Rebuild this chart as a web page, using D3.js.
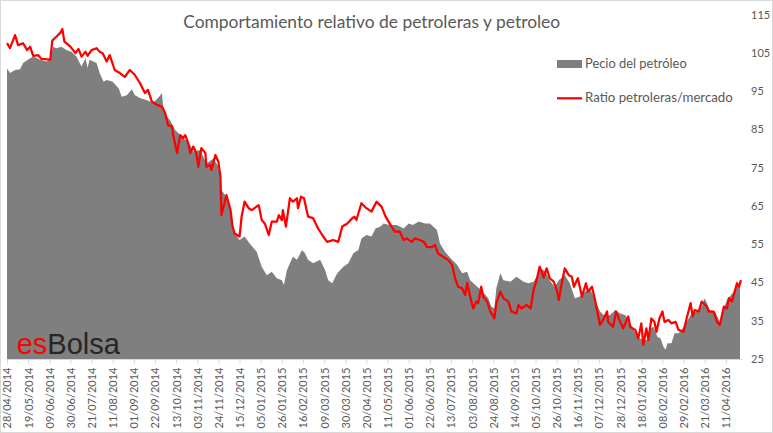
<!DOCTYPE html>
<html><head><meta charset="utf-8">
<script src="https://cdn.jsdelivr.net/npm/d3@7"></script>
<style>body{margin:0;background:#fff}svg{display:block}</style>
</head><body><svg id="c" width="773" height="433"></svg>
<script>
const titleText = "Comportamiento relativo de petroleras y petroleo";
const seriesNames = ["Pecio del petróleo", "Ratio petroleras/mercado"];
const startDate = "28/04/2014";
const endDay = 730;
const tickLabels = ["28/04/2014","19/05/2014","09/06/2014","30/06/2014","21/07/2014","11/08/2014","01/09/2014","22/09/2014","13/10/2014","03/11/2014","24/11/2014","15/12/2014","05/01/2015","26/01/2015","16/02/2015","09/03/2015","30/03/2015","20/04/2015","11/05/2015","01/06/2015","22/06/2015","13/07/2015","03/08/2015","24/08/2015","14/09/2015","05/10/2015","26/10/2015","16/11/2015","07/12/2015","28/12/2015","18/01/2016","08/02/2016","29/02/2016","21/03/2016","11/04/2016"];
const yTicks = [25,35,45,55,65,75,85,95,105,115];

// days since start date
const oilDay = [0,3,8,13,16,23,26,33,39,43,46,49,54,59,64,69,74,78,80,82,89,92,96,99,105,111,114,119,124,127,132,139,145,150,154,155,159,162,167,172,179,182,185,192,198,205,210,213,218,223,226,231,236,241,248,253,258,263,268,273,275,278,281,284,288,293,296,299,304,311,316,319,323,328,334,339,344,349,352,357,362,366,371,374,380,387,394,399,403,409,415,420,427,430,435,442,447,452,457,460,467,471,478,481,484,486,490,493,500,506,513,518,523,526,530,535,539,544,548,554,559,564,569,574,579,584,589,594,599,604,609,614,621,626,631,636,639,642,646,649,652,654,656,660,663,667,670,675,680,685,690,693,698,703,708,712,715,718,723,728];
const oilPrice = [100.9,99.7,100.5,100.7,102.3,103.6,104.0,103.2,102.7,103.3,106.6,106.2,106.6,105.7,105.3,104.0,101.4,103.6,101.0,103.2,102.3,99.7,97.4,97.9,97.4,95.7,93.5,93.9,95.5,93.9,93.2,92.6,91.9,93.2,94.5,90.9,88.3,87.4,84.8,83.5,81.8,80.9,79.2,79.6,76.1,77.4,75.2,69.1,67.4,62.2,57.9,56.1,57.0,55.2,53.0,49.1,46.9,47.8,46.1,45.6,44.3,48.2,50.0,51.7,50.9,53.5,52.6,50.9,50.0,50.9,48.2,45.6,44.8,47.4,49.1,50.0,52.6,53.5,56.5,57.4,57.0,59.1,59.6,60.4,60.0,60.0,59.1,60.4,60.0,60.9,60.4,60.4,58.7,55.2,53.0,50.9,49.6,47.4,47.8,45.6,43.9,43.0,40.9,38.7,38.2,43.5,47.4,45.6,45.2,46.5,45.2,44.8,45.2,46.5,48.7,47.8,45.6,43.8,45.6,46.9,44.8,40.9,41.3,42.6,43.5,40.4,37.4,36.1,36.5,37.8,36.9,36.5,33.4,30.8,30.0,30.0,33.0,33.4,30.8,30.4,28.2,27.4,29.1,29.1,31.7,31.7,32.6,34.7,36.9,37.4,38.7,40.9,37.8,37.4,34.7,38.2,40.4,41.3,43.0,44.8];

const ratioDay = [0,3,8,11,16,20,23,26,31,34,43,45,49,53,55,57,63,68,71,74,78,80,84,89,92,95,99,102,107,112,117,122,127,132,137,140,144,149,154,157,160,164,165,169,172,175,177,180,182,185,188,190,193,197,198,202,203,207,210,212,213,218,222,224,226,231,233,236,240,243,250,253,256,260,263,268,270,273,274,277,281,284,288,289,292,295,299,304,309,314,318,324,329,333,338,343,345,347,352,357,362,367,372,376,379,382,385,390,394,397,402,405,410,414,417,422,425,428,433,438,442,445,448,452,455,457,460,463,466,468,471,473,477,480,484,486,490,493,498,501,506,508,511,516,520,523,526,529,533,536,539,543,546,548,551,554,558,561,563,567,571,575,577,581,584,589,592,596,597,602,605,609,612,617,619,624,627,630,632,635,637,640,643,645,648,651,653,657,660,664,667,672,675,679,681,683,687,690,695,697,702,705,708,712,715,717,720,725,727,729];
const ratioValue = [107.5,106.2,109.6,107.0,107.5,105.7,106.6,104.2,104.4,103.4,103.2,108.2,109.2,110.2,111.2,107.9,106.6,104.9,106.0,104.0,105.3,104.2,105.7,106.2,105.3,104.9,102.7,104.4,100.5,99.7,98.7,100.5,99.2,97.1,94.5,95.3,92.2,91.4,90.9,89.3,86.1,85.7,83.5,78.8,83.5,82.7,83.5,81.4,78.8,80.5,78.8,75.2,80.1,78.8,75.2,75.7,74.4,78.3,76.5,72.6,62.6,67.8,63.9,59.6,57.8,57.0,62.2,66.1,64.4,63.9,65.2,61.3,60.4,57.4,60.9,60.9,62.6,61.3,63.9,59.6,67.0,66.1,67.0,64.4,67.4,67.0,62.2,61.8,59.1,57.0,55.6,56.1,55.6,59.6,60.4,61.8,62.2,61.3,65.7,64.4,63.5,66.1,64.8,62.2,60.9,59.6,58.3,58.3,56.1,56.5,55.6,56.5,56.1,55.6,54.3,54.2,54.8,52.6,51.7,50.9,49.6,46.1,43.9,43.5,41.7,44.8,41.3,38.2,40.0,39.6,43.9,41.3,40.0,37.4,35.6,39.6,42.6,40.9,40.0,37.4,36.9,39.1,38.2,39.1,38.2,43.0,45.6,49.1,46.3,48.7,46.1,45.2,43.0,40.4,44.8,48.7,46.9,46.5,43.9,46.1,41.3,44.8,42.6,43.9,40.4,33.9,35.2,37.4,34.7,33.4,37.4,34.7,33.0,36.1,33.4,32.6,30.4,34.3,28.7,33.0,30.0,35.6,34.7,32.1,35.6,37.4,34.7,35.2,34.3,34.7,32.6,32.1,35.6,39.6,36.1,37.8,37.4,40.0,38.7,37.4,37.4,34.7,33.9,38.7,38.2,40.9,40.0,44.8,43.9,45.6];

const W = 773, H = 433;
const svg = d3.select("#c");
const parse = d3.timeParse("%d/%m/%Y");
const fmt = d3.timeFormat("%d/%m/%Y");
const t0 = parse(startDate);
const toDate = d => d3.timeDay.offset(t0, d);

const x = d3.scaleTime().domain([t0, toDate(endDay)]).range([7, 742]);
const y = d3.scaleLinear().domain([25, 115]).range([359, 14.5]);

const oil = oilDay.map((d, i) => ({date: toDate(d), v: oilPrice[i]}));
const ratio = ratioDay.map((d, i) => ({date: toDate(d), v: ratioValue[i]}));

svg.append("rect").attr("x", 0.5).attr("y", 0.5).attr("width", W - 1).attr("height", H - 1)
  .attr("fill", "#fff").attr("stroke", "#d9d9d9");

svg.append("path").datum(oil)
  .attr("fill", "#7f7f7f")
  .attr("d", d3.area().x(d => x(d.date)).y0(y(25)).y1(d => y(d.v)));

svg.append("path").datum(ratio)
  .attr("fill", "none").attr("stroke", "#ff0000").attr("stroke-width", 2.25)
  .attr("stroke-linejoin", "round")
  .attr("d", d3.line().x(d => x(d.date)).y(d => y(d.v)));

// bottom axis
const xa = svg.append("g").attr("transform", `translate(0,${y(25) + 0.5})`)
  .call(d3.axisBottom(x).tickValues(tickLabels.map(parse)).tickFormat(fmt).tickSize(4).tickSizeOuter(0));
xa.select(".domain").attr("stroke", "#d9d9d9").attr("d", `M${x(t0)},0H${x(toDate(endDay))}`);
xa.selectAll(".tick line").attr("stroke", "#d9d9d9");
xa.selectAll(".tick text")
  .attr("transform", "rotate(-90)")
  .attr("text-anchor", "end")
  .attr("x", -8).attr("y", 0).attr("dy", "0.35em")
  .attr("fill", "#595959")
  .style("font-family", "Lato, 'Liberation Sans', sans-serif")
  .style("font-size", "11px");

// right axis
const ya = svg.append("g").attr("transform", "translate(751,0)")
  .call(d3.axisRight(y).tickValues(yTicks).tickSize(0).tickPadding(0));
ya.select(".domain").remove();
ya.selectAll(".tick text").attr("fill", "#595959")
  .style("font-family", "Lato, 'Liberation Sans', sans-serif")
  .style("font-size", "11px");

// title
svg.append("text").attr("x", 371.7).attr("y", 28).attr("text-anchor", "middle")
  .attr("fill", "#595959").attr("textLength", 377).attr("lengthAdjust", "spacingAndGlyphs")
  .style("font-family", "Lato, 'Liberation Sans', sans-serif").style("font-size", "18px")
  .text(titleText);

// legend
const lg = svg.append("g");
lg.append("rect").attr("x", 557).attr("y", 60).attr("width", 25).attr("height", 8).attr("fill", "#7f7f7f");
lg.append("line").attr("x1", 557).attr("x2", 582).attr("y1", 98.3).attr("y2", 98.3)
  .attr("stroke", "#ff0000").attr("stroke-width", 2.25);
[[68, 101.7], [101.8, 147.7]].forEach((p, i) => {
  lg.append("text").attr("x", 585).attr("y", p[0]).attr("fill", "#595959")
    .attr("textLength", p[1]).attr("lengthAdjust", "spacingAndGlyphs")
    .style("font-family", "Lato, 'Liberation Sans', sans-serif").style("font-size", "12.5px")
    .text(seriesNames[i]);
});

// logo
const logo = svg.append("text").attr("x", 16.7).attr("y", 354.3)
  .style("font-family", "'Liberation Sans', Arial, sans-serif").style("font-size", "29px");
logo.append("tspan").attr("fill", "#ff0000").text("es");
logo.append("tspan").attr("fill", "#262626").text("Bolsa");
</script></body></html>
